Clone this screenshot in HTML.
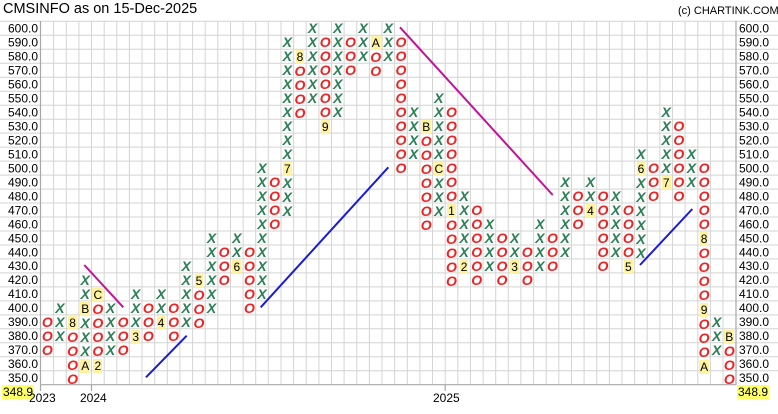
<!DOCTYPE html>
<html><head><meta charset="utf-8"><style>
body{margin:0;background:#fff;width:778px;height:414px;overflow:hidden;position:relative;font-family:"Liberation Sans",sans-serif}
svg{position:absolute;left:0;top:0}
.c{position:absolute;width:12.63px;text-align:center;line-height:13.98px;font-size:14px;font-style:italic;font-weight:bold;word-break:break-all}
.x{color:#2a7f55}
.o{color:#ee2222}
.c b{font-style:normal;font-weight:normal;color:#000;background:#fff3a0;font-size:12px;padding:0 1px}
.t{position:absolute;font-size:12px;color:#000;white-space:nowrap}
</style></head><body>
<svg width="778" height="414">
<g stroke="#d4d4d4" stroke-width="1">
<path d="M0 21.3H778M0 35.3H778M0 49.3H778M0 63.2H778M0 77.2H778M0 91.2H778M0 105.2H778M0 119.2H778M0 133.1H778M0 147.1H778M0 161.1H778M0 175.1H778M0 189.1H778M0 203.0H778M0 217.0H778M0 231.0H778M0 245.0H778M0 258.9H778M0 272.9H778M0 286.9H778M0 300.9H778M0 314.9H778M0 328.8H778M0 342.8H778M0 356.8H778M0 370.8H778"/>
<path d="M53.6 21V385M66.3 21V385M78.9 21V385M91.5 21V385M104.2 21V385M116.8 21V385M129.4 21V385M142.0 21V385M154.7 21V385M167.3 21V385M179.9 21V385M192.6 21V385M205.2 21V385M217.8 21V385M230.5 21V385M243.1 21V385M255.7 21V385M268.3 21V385M281.0 21V385M293.6 21V385M306.2 21V385M318.9 21V385M331.5 21V385M344.1 21V385M356.8 21V385M369.4 21V385M382.0 21V385M394.6 21V385M407.3 21V385M419.9 21V385M432.5 21V385M445.2 21V385M457.8 21V385M470.4 21V385M483.1 21V385M495.7 21V385M508.3 21V385M520.9 21V385M533.6 21V385M546.2 21V385M558.8 21V385M571.5 21V385M584.1 21V385M596.7 21V385M609.4 21V385M622.0 21V385M634.6 21V385M647.2 21V385M659.9 21V385M672.5 21V385M685.1 21V385M697.8 21V385M710.4 21V385M723.0 21V385"/>
</g>
<g stroke="#a8a8a8" stroke-width="1.2">
<path d="M40.5 21V385M736 21V385M40 384.7H736M40.5 385V391M91.5 385V391M445.2 385V391"/>
</g>
<g stroke-width="2" fill="none">
<path d="M84.3 265L123.3 307.3" stroke="#c0149a"/>
<path d="M400 27.3L552.7 195" stroke="#c0149a"/>
<path d="M146 377.3L186.7 335.7" stroke="#1a1ad8"/>
<path d="M260.7 307.3L388.3 167.3" stroke="#1a1ad8"/>
<path d="M640 265L692.3 209" stroke="#1a1ad8"/>
</g>
<g font-family="Liberation Sans" font-size="12" text-anchor="end">
<text x="38" y="32.6">600.0</text><text x="38" y="46.6">590.0</text><text x="38" y="60.6">580.0</text><text x="38" y="74.5">570.0</text><text x="38" y="88.5">560.0</text><text x="38" y="102.5">550.0</text><text x="38" y="116.5">540.0</text><text x="38" y="130.5">530.0</text><text x="38" y="144.4">520.0</text><text x="38" y="158.4">510.0</text><text x="38" y="172.4">500.0</text><text x="38" y="186.4">490.0</text><text x="38" y="200.4">480.0</text><text x="38" y="214.3">470.0</text><text x="38" y="228.3">460.0</text><text x="38" y="242.3">450.0</text><text x="38" y="256.3">440.0</text><text x="38" y="270.2">430.0</text><text x="38" y="284.2">420.0</text><text x="38" y="298.2">410.0</text><text x="38" y="312.2">400.0</text><text x="38" y="326.2">390.0</text><text x="38" y="340.1">380.0</text><text x="38" y="354.1">370.0</text><text x="38" y="368.1">360.0</text><text x="38" y="382.1">350.0</text>
</g>
<g font-family="Liberation Sans" font-size="12">
<text x="739" y="32.6">600.0</text><text x="739" y="46.6">590.0</text><text x="739" y="60.6">580.0</text><text x="739" y="74.5">570.0</text><text x="739" y="88.5">560.0</text><text x="739" y="102.5">550.0</text><text x="739" y="116.5">540.0</text><text x="739" y="130.5">530.0</text><text x="739" y="144.4">520.0</text><text x="739" y="158.4">510.0</text><text x="739" y="172.4">500.0</text><text x="739" y="186.4">490.0</text><text x="739" y="200.4">480.0</text><text x="739" y="214.3">470.0</text><text x="739" y="228.3">460.0</text><text x="739" y="242.3">450.0</text><text x="739" y="256.3">440.0</text><text x="739" y="270.2">430.0</text><text x="739" y="284.2">420.0</text><text x="739" y="298.2">410.0</text><text x="739" y="312.2">400.0</text><text x="739" y="326.2">390.0</text><text x="739" y="340.1">380.0</text><text x="739" y="354.1">370.0</text><text x="739" y="368.1">360.0</text><text x="739" y="382.1">350.0</text>
</g>
</svg>
<div class="t" style="left:3px;top:1px;font-size:14.5px">CMSINFO as on 15-Dec-2025</div>
<div class="t" style="left:678px;top:5px;font-size:11px">(c) CHARTINK.COM</div>
<div class="t" style="left:2px;top:385px;background:#ffff66;padding:0 1px">348.9</div>
<div class="t" style="left:737px;top:385px;background:#ffff66;padding:0 1px">348.9</div>
<div class="t" style="left:29px;top:391px">2023</div>
<div class="t" style="left:80px;top:391px">2024</div>
<div class="t" style="left:433px;top:391px">2025</div>

<div class="c o" style="left:41.0px;top:314.9px">OOO</div>
<div class="c x" style="left:53.6px;top:300.9px">XXX</div>
<div class="c o" style="left:66.3px;top:314.9px"><b>8</b>OOOO</div>
<div class="c x" style="left:78.9px;top:272.9px">XX<b>B</b>XXX<b>A</b></div>
<div class="c o" style="left:91.5px;top:286.9px"><b>C</b>OOOO<b>2</b></div>
<div class="c x" style="left:104.2px;top:300.9px">XXXX</div>
<div class="c o" style="left:116.8px;top:314.9px">OOO</div>
<div class="c x" style="left:129.4px;top:286.9px">XXX<b>3</b></div>
<div class="c o" style="left:142.0px;top:300.9px">OOO</div>
<div class="c x" style="left:154.7px;top:286.9px">XX<b>4</b></div>
<div class="c o" style="left:167.3px;top:300.9px">OOO</div>
<div class="c x" style="left:179.9px;top:258.9px">XXXXX</div>
<div class="c o" style="left:192.6px;top:272.9px"><b>5</b>OOO</div>
<div class="c x" style="left:205.2px;top:231.0px">XXXXXX</div>
<div class="c o" style="left:217.8px;top:245.0px">OOO</div>
<div class="c x" style="left:230.5px;top:231.0px">XX<b>6</b></div>
<div class="c o" style="left:243.1px;top:245.0px">OOOOO</div>
<div class="c x" style="left:255.7px;top:161.1px">XXXXXXXXXX</div>
<div class="c o" style="left:268.3px;top:175.1px">OOOO</div>
<div class="c x" style="left:281.0px;top:35.3px">XXXXXXXXX<b>7</b>XXX</div>
<div class="c o" style="left:293.6px;top:49.3px"><b>8</b>OOOO</div>
<div class="c x" style="left:306.2px;top:21.3px">XXXXXX</div>
<div class="c o" style="left:318.9px;top:35.3px">OOOOOO<b>9</b></div>
<div class="c x" style="left:331.5px;top:21.3px">XXXXXXX</div>
<div class="c o" style="left:344.1px;top:35.3px">OOO</div>
<div class="c x" style="left:356.8px;top:21.3px">XXX</div>
<div class="c o" style="left:369.4px;top:35.3px"><b>A</b>OO</div>
<div class="c x" style="left:382.0px;top:21.3px">XXX</div>
<div class="c o" style="left:394.6px;top:35.3px">OOOOOOOOOO</div>
<div class="c x" style="left:407.3px;top:105.2px">XXXX</div>
<div class="c o" style="left:419.9px;top:119.2px"><b>B</b>OOOOOOO</div>
<div class="c x" style="left:432.5px;top:91.2px">XXXXX<b>C</b>XXX</div>
<div class="c o" style="left:445.2px;top:105.2px">OOOOOOO<b>1</b>OOOOO</div>
<div class="c x" style="left:457.8px;top:189.1px">XXXXX<b>2</b></div>
<div class="c o" style="left:470.4px;top:203.0px">OOOOOO</div>
<div class="c x" style="left:483.1px;top:217.0px">XXXX</div>
<div class="c o" style="left:495.7px;top:231.0px">OOOO</div>
<div class="c x" style="left:508.3px;top:231.0px">XX<b>3</b></div>
<div class="c o" style="left:520.9px;top:245.0px">OOO</div>
<div class="c x" style="left:533.6px;top:217.0px">XXXX</div>
<div class="c o" style="left:546.2px;top:231.0px">OOO</div>
<div class="c x" style="left:558.8px;top:175.1px">XXXXXX</div>
<div class="c o" style="left:571.5px;top:189.1px">OOO</div>
<div class="c x" style="left:584.1px;top:175.1px">XX<b>4</b></div>
<div class="c o" style="left:596.7px;top:189.1px">OOOOOO</div>
<div class="c x" style="left:609.4px;top:189.1px">XXXXX</div>
<div class="c o" style="left:622.0px;top:203.0px">OOOO<b>5</b></div>
<div class="c x" style="left:634.6px;top:147.1px">X<b>6</b>XXXXXX</div>
<div class="c o" style="left:647.2px;top:161.1px">OOO</div>
<div class="c x" style="left:659.9px;top:105.2px">XXXXX<b>7</b></div>
<div class="c o" style="left:672.5px;top:119.2px">OOOOOO</div>
<div class="c x" style="left:685.1px;top:147.1px">XXX</div>
<div class="c o" style="left:697.8px;top:161.1px">OOOOO<b>8</b>OOOO<b>9</b>OOO<b>A</b></div>
<div class="c x" style="left:710.4px;top:314.9px">XXX</div>
<div class="c o" style="left:723.0px;top:328.8px"><b>B</b>OOO</div>
</body></html>
